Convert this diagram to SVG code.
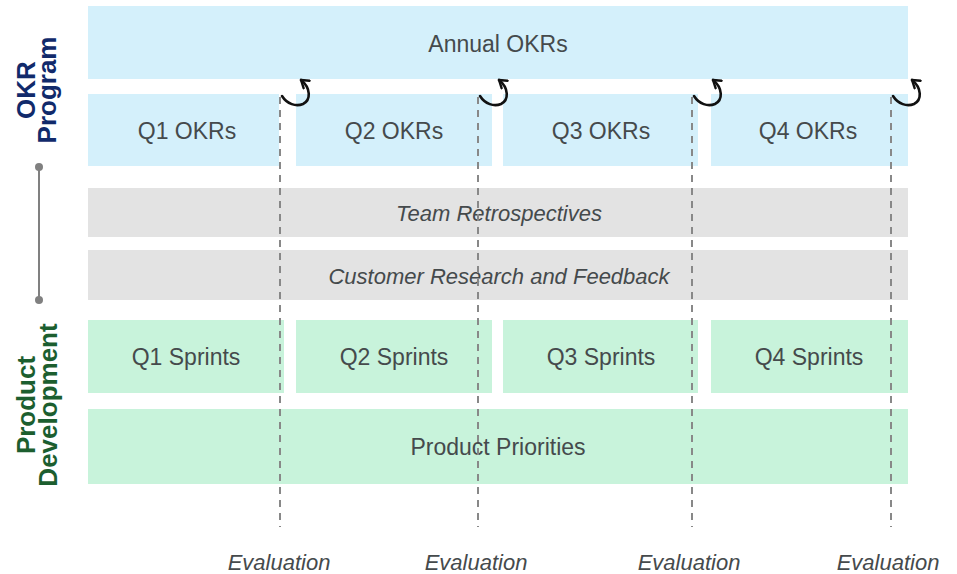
<svg xmlns="http://www.w3.org/2000/svg" width="957" height="574" viewBox="0 0 957 574">
  <style>
    .okr { fill: #d4f0fb; }
    .grey { fill: #e3e3e3; }
    .dev { fill: #c8f3db; }
    .lbl { font-family: "Liberation Sans", Arial, sans-serif; font-size: 22px; fill: #454a4c; text-anchor: middle; }
    .big { font-size: 23px; }
    .it { font-style: italic; }
    .side { font-family: "Liberation Sans", Arial, sans-serif; font-size: 26px; font-weight: bold; text-anchor: middle; }
    .eval { stroke: #888; stroke-width: 2; stroke-dasharray: 7 6; fill: none; }
    .loop { stroke: #111; stroke-width: 2.6; fill: none; stroke-linecap: round; }
  </style>
  <defs>
    <marker id="chev" viewBox="0 0 10 10" refX="7" refY="5" markerWidth="4.6" markerHeight="4.6" orient="auto" markerUnits="strokeWidth">
      <path d="M1,1 L7,5 L1,9" fill="none" stroke="#111" stroke-width="2" stroke-linecap="round" stroke-linejoin="round"/>
    </marker>
  </defs>
  <rect width="957" height="574" fill="#ffffff"/>

  <!-- side headings -->
  <g id="okr-program">
    <text class="side" fill="#112a6b" transform="translate(35,90) rotate(-90)">OKR</text>
    <text class="side" fill="#112a6b" transform="translate(56,90) rotate(-90)">Program</text>
  </g>
  <g id="product-development">
    <text class="side" fill="#1c5e2f" transform="translate(35,405) rotate(-90)">Product</text>
    <text class="side" fill="#1c5e2f" transform="translate(57,405) rotate(-90)">Development</text>
  </g>
  <g id="link">
    <line x1="39" y1="167" x2="39" y2="300" stroke="#808080" stroke-width="2"/>
    <circle cx="39" cy="167" r="4" fill="#808080"/>
    <circle cx="39" cy="300" r="4" fill="#808080"/>
  </g>

  <!-- OKR rows -->
  <g id="annual-okrs">
    <rect class="okr" x="88" y="6" width="820" height="73"/>
    <text class="lbl big" x="498" y="52">Annual OKRs</text>
  </g>
  <g id="q1-okrs">
    <rect class="okr" x="88" y="94" width="191" height="72"/>
    <text class="lbl big" x="187" y="139">Q1 OKRs</text>
  </g>
  <g id="q2-okrs">
    <rect class="okr" x="296" y="94" width="196" height="72"/>
    <text class="lbl big" x="394" y="139">Q2 OKRs</text>
  </g>
  <g id="q3-okrs">
    <rect class="okr" x="503" y="94" width="195" height="72"/>
    <text class="lbl big" x="601" y="139">Q3 OKRs</text>
  </g>
  <g id="q4-okrs">
    <rect class="okr" x="711" y="94" width="197" height="72"/>
    <text class="lbl big" x="808" y="139">Q4 OKRs</text>
  </g>

  <!-- shared rows -->
  <g id="team-retrospectives">
    <rect class="grey" x="88" y="188" width="820" height="49"/>
    <text class="lbl it" x="499" y="221">Team Retrospectives</text>
  </g>
  <g id="customer-research">
    <rect class="grey" x="88" y="250" width="820" height="50"/>
    <text class="lbl it" x="499" y="284">Customer Research and Feedback</text>
  </g>

  <!-- development rows -->
  <g id="q1-sprints">
    <rect class="dev" x="88" y="320" width="196" height="73"/>
    <text class="lbl big" x="186" y="365">Q1 Sprints</text>
  </g>
  <g id="q2-sprints">
    <rect class="dev" x="296" y="320" width="196" height="73"/>
    <text class="lbl big" x="394" y="365">Q2 Sprints</text>
  </g>
  <g id="q3-sprints">
    <rect class="dev" x="503" y="320" width="195" height="73"/>
    <text class="lbl big" x="601" y="365">Q3 Sprints</text>
  </g>
  <g id="q4-sprints">
    <rect class="dev" x="711" y="320" width="197" height="73"/>
    <text class="lbl big" x="809" y="365">Q4 Sprints</text>
  </g>
  <g id="product-priorities">
    <rect class="dev" x="88" y="409" width="820" height="75"/>
    <text class="lbl big" x="498" y="455">Product Priorities</text>
  </g>

  <!-- evaluation markers: dashed lines with feedback loops -->
  <g id="connectors">
    <line class="eval" x1="280" y1="97" x2="280" y2="527"/>
    <line class="eval" x1="478" y1="97" x2="478" y2="527"/>
    <line class="eval" x1="692" y1="97" x2="692" y2="527"/>
    <line class="eval" x1="891" y1="97" x2="891" y2="527"/>
    <path class="loop" marker-end="url(#chev)" d="M282,96 C287,104 296,107 303,104 C311,100 311,88 301,80"/>
    <path class="loop" marker-end="url(#chev)" d="M480,96 C485,104 494,107 501,104 C509,100 509,88 499,80"/>
    <path class="loop" marker-end="url(#chev)" d="M694,96 C699,104 708,107 715,104 C723,100 723,88 713,80"/>
    <path class="loop" marker-end="url(#chev)" d="M893,96 C898,104 907,107 914,104 C922,100 922,88 912,80"/>
  </g>

  <g id="evaluation-labels">
    <text class="lbl it" x="279" y="570">Evaluation</text>
    <text class="lbl it" x="476" y="570">Evaluation</text>
    <text class="lbl it" x="689" y="570">Evaluation</text>
    <text class="lbl it" x="888" y="570">Evaluation</text>
  </g>
</svg>
